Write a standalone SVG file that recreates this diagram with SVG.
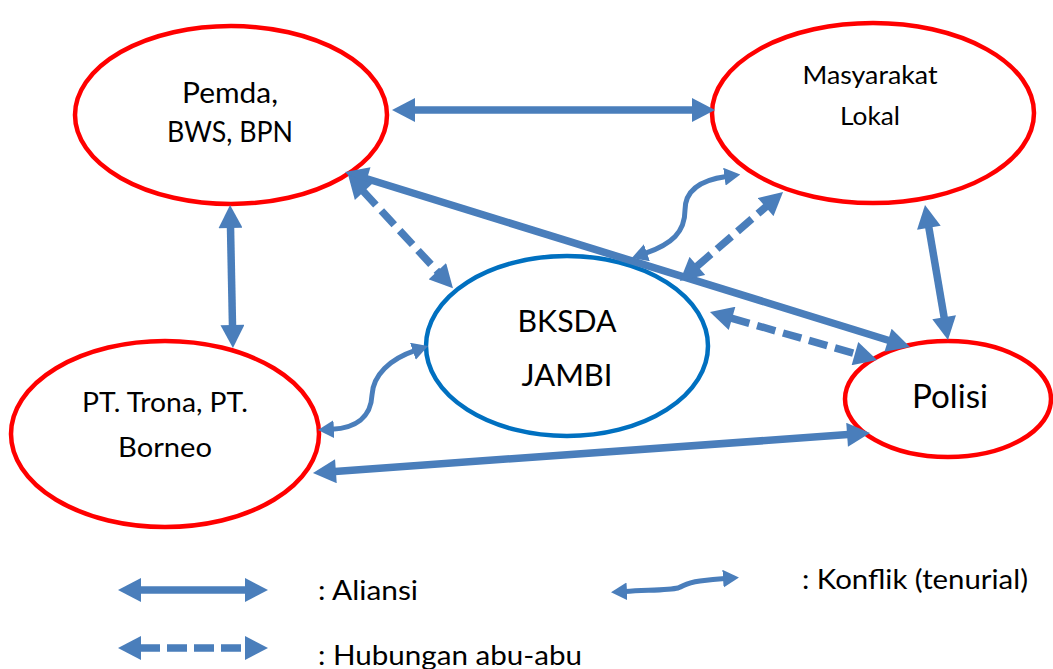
<svg xmlns="http://www.w3.org/2000/svg" width="1053" height="669" viewBox="0 0 1053 669">
<style>
.red{fill:#fff;stroke:#ff0000;stroke-width:4.5}
.blue{fill:#fff;stroke:#0070c0;stroke-width:4.5}
.t{font-family:Lato,"Open Sans","Liberation Sans",sans-serif;fill:#000;text-anchor:middle}
.lt{font-family:Lato,"Open Sans","Liberation Sans",sans-serif;fill:#000;font-size:26px}
.a{fill:none;stroke:#4a7ebb;stroke-width:7.5;marker-start:url(#h);marker-end:url(#h)}
.d{stroke-dasharray:19 8}
.c{fill:none;stroke:#4a7ebb;stroke-width:5;marker-start:url(#hs);marker-end:url(#hs)}
</style>
<defs>
<marker id="h" markerUnits="userSpaceOnUse" markerWidth="24" markerHeight="24" viewBox="0 0 23 24" refX="1" refY="12" orient="auto-start-reverse">
<path d="M0,0 L23,12 L0,24 z" fill="#4a7ebb"/>
</marker>
<marker id="hs" markerUnits="userSpaceOnUse" markerWidth="16" markerHeight="18" viewBox="0 0 16 18" refX="2" refY="9" orient="auto-start-reverse">
<path d="M0,0 L16,9 L0,18 z" fill="#4a7ebb"/>
</marker>
</defs>
<rect width="1053" height="669" fill="#fff"/>
<g id="node-pemda">
<ellipse class="red" cx="231" cy="115" rx="156" ry="89"/>
<text class="t" x="230" y="103" font-size="28" textLength="96" lengthAdjust="spacingAndGlyphs">Pemda,</text>
<text class="t" x="230" y="142" font-size="28" textLength="126" lengthAdjust="spacingAndGlyphs">BWS, BPN</text>
</g>
<g id="node-masyarakat">
<ellipse class="red" cx="873" cy="113" rx="161" ry="90"/>
<text class="t" x="870" y="84" font-size="25" textLength="135" lengthAdjust="spacingAndGlyphs">Masyarakat</text>
<text class="t" x="870" y="125" font-size="25" textLength="60" lengthAdjust="spacingAndGlyphs">Lokal</text>
</g>
<g id="node-bksda">
<ellipse class="blue" cx="567" cy="346" rx="141" ry="90"/>
<text class="t" x="567" y="332" font-size="30" textLength="99" lengthAdjust="spacingAndGlyphs">BKSDA</text>
<text class="t" x="567" y="386" font-size="30" textLength="91" lengthAdjust="spacingAndGlyphs">JAMBI</text>
</g>
<g id="node-pt">
<ellipse class="red" cx="165" cy="434" rx="154" ry="93"/>
<text class="t" x="165" y="412" font-size="27" textLength="166" lengthAdjust="spacingAndGlyphs">PT. Trona, PT.</text>
<text class="t" x="165" y="457" font-size="27" textLength="94" lengthAdjust="spacingAndGlyphs">Borneo</text>
</g>
<g id="node-polisi">
<ellipse class="red" cx="948" cy="399" rx="103" ry="58"/>
<text class="t" x="950" y="408" font-size="33" textLength="76" lengthAdjust="spacingAndGlyphs">Polisi</text>
</g>
<g id="connectors">
<line class="a" x1="414" y1="110" x2="693" y2="110"/>
<line class="a" x1="230.5" y1="227" x2="232.5" y2="326"/>
<line class="a" x1="366" y1="178.5" x2="889" y2="340.5"/>
<line class="a d" x1="363" y1="191" x2="438" y2="272"/>
<line class="a d" x1="696.6" y1="266.6" x2="766.4" y2="206.4"/>
<line class="a d" x1="731.1" y1="318.1" x2="855.9" y2="353.9"/>
<line class="a" x1="928.7" y1="226.7" x2="944.3" y2="318.3"/>
<line class="a" x1="334.9" y1="471.4" x2="848.1" y2="434.6"/>
<path class="c" d="M645,253.4 C672,244 685,232 685,210 C685,190 700,180 726.4,176.4"/>
<path class="c" d="M414.8,350.6 C390,359 373,375 372,395 C371,418 355,428 331.9,429.3"/>
</g>
<g id="legend">
<line class="a" x1="140" y1="590" x2="246" y2="590"/>
<line class="a d" x1="140" y1="648" x2="246" y2="648" style="stroke-dasharray:20 7"/>
<path class="c" d="M625,591.5 C650,590 670,590 678,588 C686,585 685,583 700,581 C712,579.5 718,579 725,578.5"/>
<text class="lt" x="318" y="600" textLength="100" lengthAdjust="spacingAndGlyphs">: Aliansi</text>
<text class="lt" x="318" y="665" textLength="264" lengthAdjust="spacingAndGlyphs">: Hubungan abu-abu</text>
<text class="lt" x="802" y="589" textLength="226" lengthAdjust="spacingAndGlyphs">: Konflik (tenurial)</text>
</g>
</svg>
